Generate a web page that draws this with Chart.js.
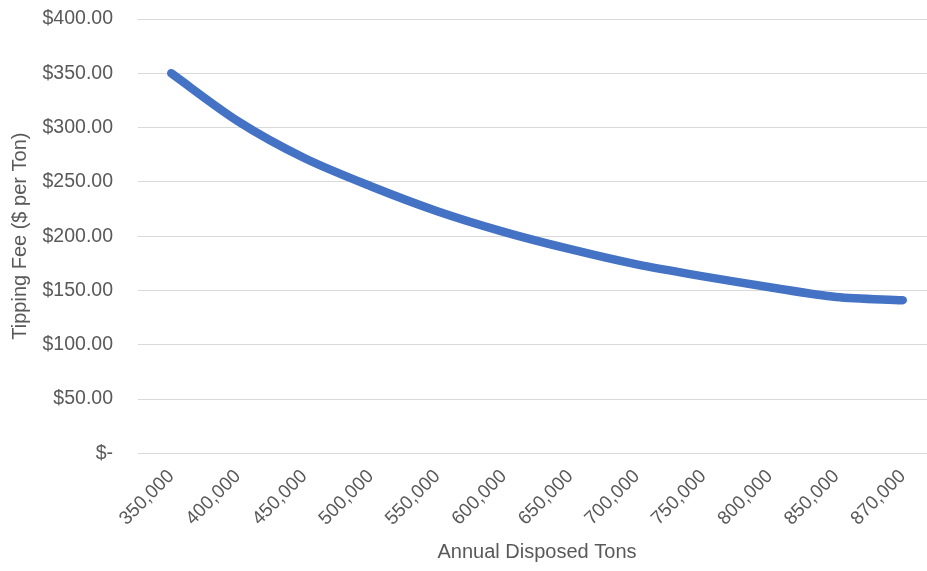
<!DOCTYPE html>
<html>
<head>
<meta charset="utf-8">
<script src="https://cdn.jsdelivr.net/npm/chart.js@4"></script>
<style>
  html, body { margin: 0; padding: 0; background: #fff; }
  /* canvas a little wider than the window: the original plot is cut off on the right */
  #wrap { width: 927px; height: 571px; position: relative; overflow: hidden; }
</style>
</head>
<body>
<div id="wrap"><canvas id="myChart" width="936" height="571"></canvas></div>
<script>
// annual tons on x, fee per ton on y
const tons = ['350,000', '400,000', '450,000', '500,000', '550,000', '600,000',
              '650,000', '700,000', '750,000', '800,000', '850,000', '870,000'];
const fees = [350, 306, 272, 246, 223, 204, 188, 174, 163, 153, 144, 141];

const grey = '#595959';

function money(v) {
  if (v === 0) return '$-';
  return '$' + v.toFixed(2);
}

const config = {
  type: 'line',
  data: {
    labels: tons,
    datasets: [{
      label: 'Tipping Fee',
      data: fees,
      borderColor: '#4472C4',
      backgroundColor: '#4472C4',
      borderWidth: 8.5,
      borderCapStyle: 'round',
      borderJoinStyle: 'round',
      pointRadius: 0,
      tension: 0.3,
      fill: false
    }]
  },
  options: {
    responsive: false,
    animation: false,
    layout: { padding: { top: 19, right: 0, left: 0, bottom: 7 } },
    plugins: {
      legend: { display: false },
      tooltip: { enabled: false }
    },
    scales: {
      x: {
        offset: true,
        grid: { display: false },
        border: { display: false },
        afterFit: function(scale) {
          // rotated labels would push the plot to the right
          scale.paddingLeft = 0;
          scale.paddingRight = 0;
        },
        ticks: {
          color: grey,
          font: { family: 'Liberation Sans', size: 19 },
          maxRotation: 45,
          minRotation: 45,
          autoSkip: false,
          padding: 4
        },
        title: {
          display: true,
          text: 'Annual Disposed Tons',
          color: grey,
          font: { family: 'Liberation Sans', size: 20 },
          padding: { top: 6, bottom: 0 }
        }
      },
      y: {
        min: 0,
        max: 400,
        grid: { color: '#d9d9d9', lineWidth: 1, drawTicks: false },
        border: { display: false },
        afterFit: function(scale) {
          scale.width = 138;
          scale.paddingTop = 0;
          scale.paddingBottom = 0;
        },
        ticks: {
          stepSize: 50,
          color: grey,
          font: { family: 'Liberation Sans', size: 19.5 },
          padding: 25,
          callback: money
        },
        title: {
          display: true,
          text: 'Tipping Fee ($ per Ton)',
          color: grey,
          font: { family: 'Liberation Sans', size: 20 },
          padding: { top: 8, bottom: 10 }
        }
      }
    }
  }
};

const myChart = new Chart(document.getElementById('myChart'), config);
</script>
</body>
</html>
